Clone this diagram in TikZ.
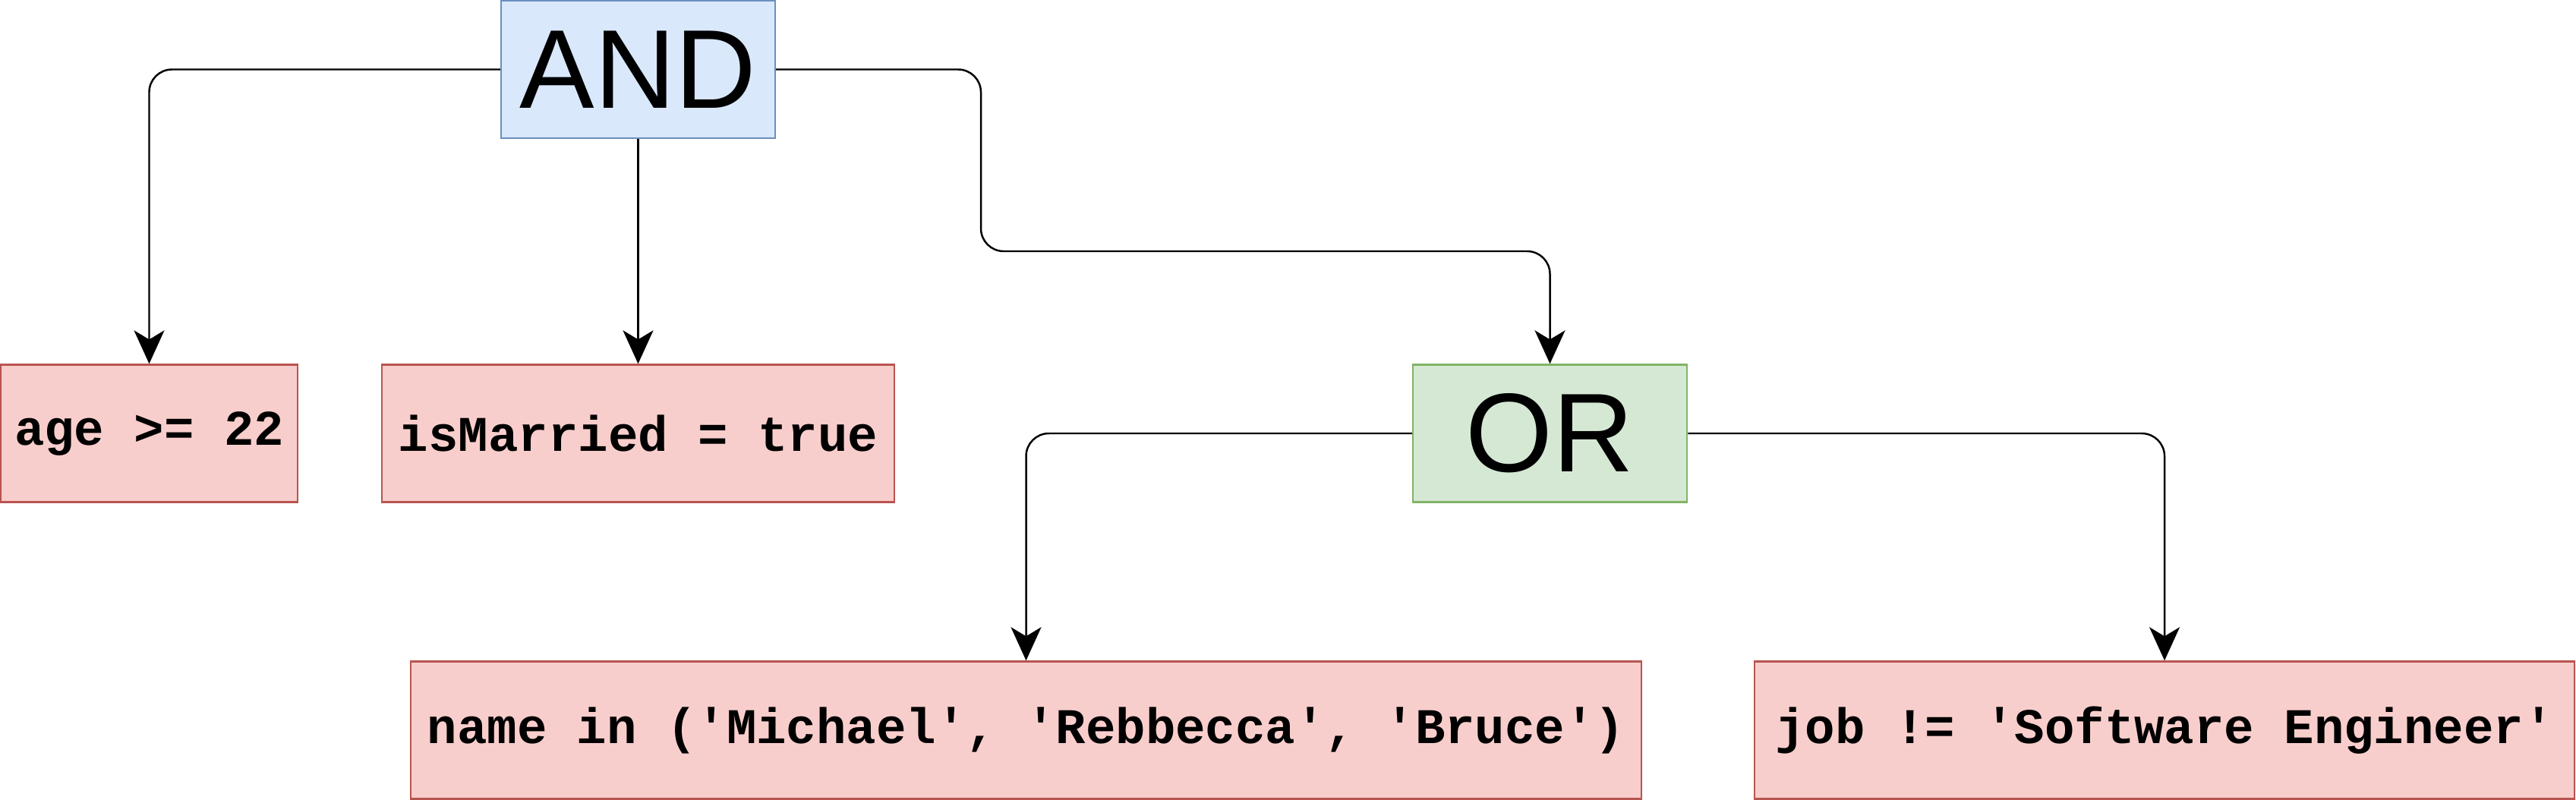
\documentclass[tikz,border=0pt]{standalone}
\usepackage{fontspec}
\setmainfont{Liberation Sans}
\newfontfamily\codefont{Liberation Mono}
\usetikzlibrary{arrows.meta}
\definecolor{andfill}{HTML}{DAE8FC}
\definecolor{anddraw}{HTML}{6C8EBF}
\definecolor{orfill}{HTML}{D5E8D4}
\definecolor{ordraw}{HTML}{82B366}
\definecolor{leaffill}{HTML}{F8CECC}
\definecolor{leafdraw}{HTML}{B85450}
\tikzset{
  opbox/.style={draw, line width=0.7pt, inner sep=0pt, minimum width=3.61cm, minimum height=1.81cm,
    font=\fontsize{42}{48}\selectfont},
  andbox/.style={opbox, fill=andfill, draw=anddraw},
  orbox/.style={opbox, fill=orfill, draw=ordraw},
  leafbox/.style={draw=leafdraw, fill=leaffill, line width=0.7pt, inner sep=0pt, minimum height=1.81cm,
    font=\codefont\bfseries\fontsize{18.7}{22}\selectfont},
  conn/.style={line width=0.7pt, rounded corners=0.3cm, -{Stealth[length=0.44cm, width=0.4cm, inset=0.12cm]}}
}
\begin{document}
\begin{tikzpicture}
\useasboundingbox (0,0) rectangle (33.93,-10.53);
\node[andbox] (and) at (8.405,-0.915) {AND};
\node[leafbox, minimum width=3.91cm] (age) at (1.965,-5.71) {age >= 22};
\node[leafbox, minimum width=6.75cm] (married) at (8.405,-5.71) {isMarried = true};
\node[orbox] (or) at (20.415,-5.71) {OR};
\node[leafbox, minimum width=16.21cm] (name) at (13.515,-9.62) {name in ('Michael', 'Rebbecca', 'Bruce')};
\node[leafbox, minimum width=10.80cm] (job) at (28.51,-9.62) {job != 'Software Engineer'};
\coordinate (k1) at (12.92,-3.31);
\draw[conn] (and.west) -| (age.north);
\draw[conn] (and.south) -- (married.north);
\draw[conn] (and.east) -| (k1) -| (or.north);
\draw[conn] (or.west) -| (name.north);
\draw[conn] (or.east) -| (job.north);
\end{tikzpicture}
\end{document}
